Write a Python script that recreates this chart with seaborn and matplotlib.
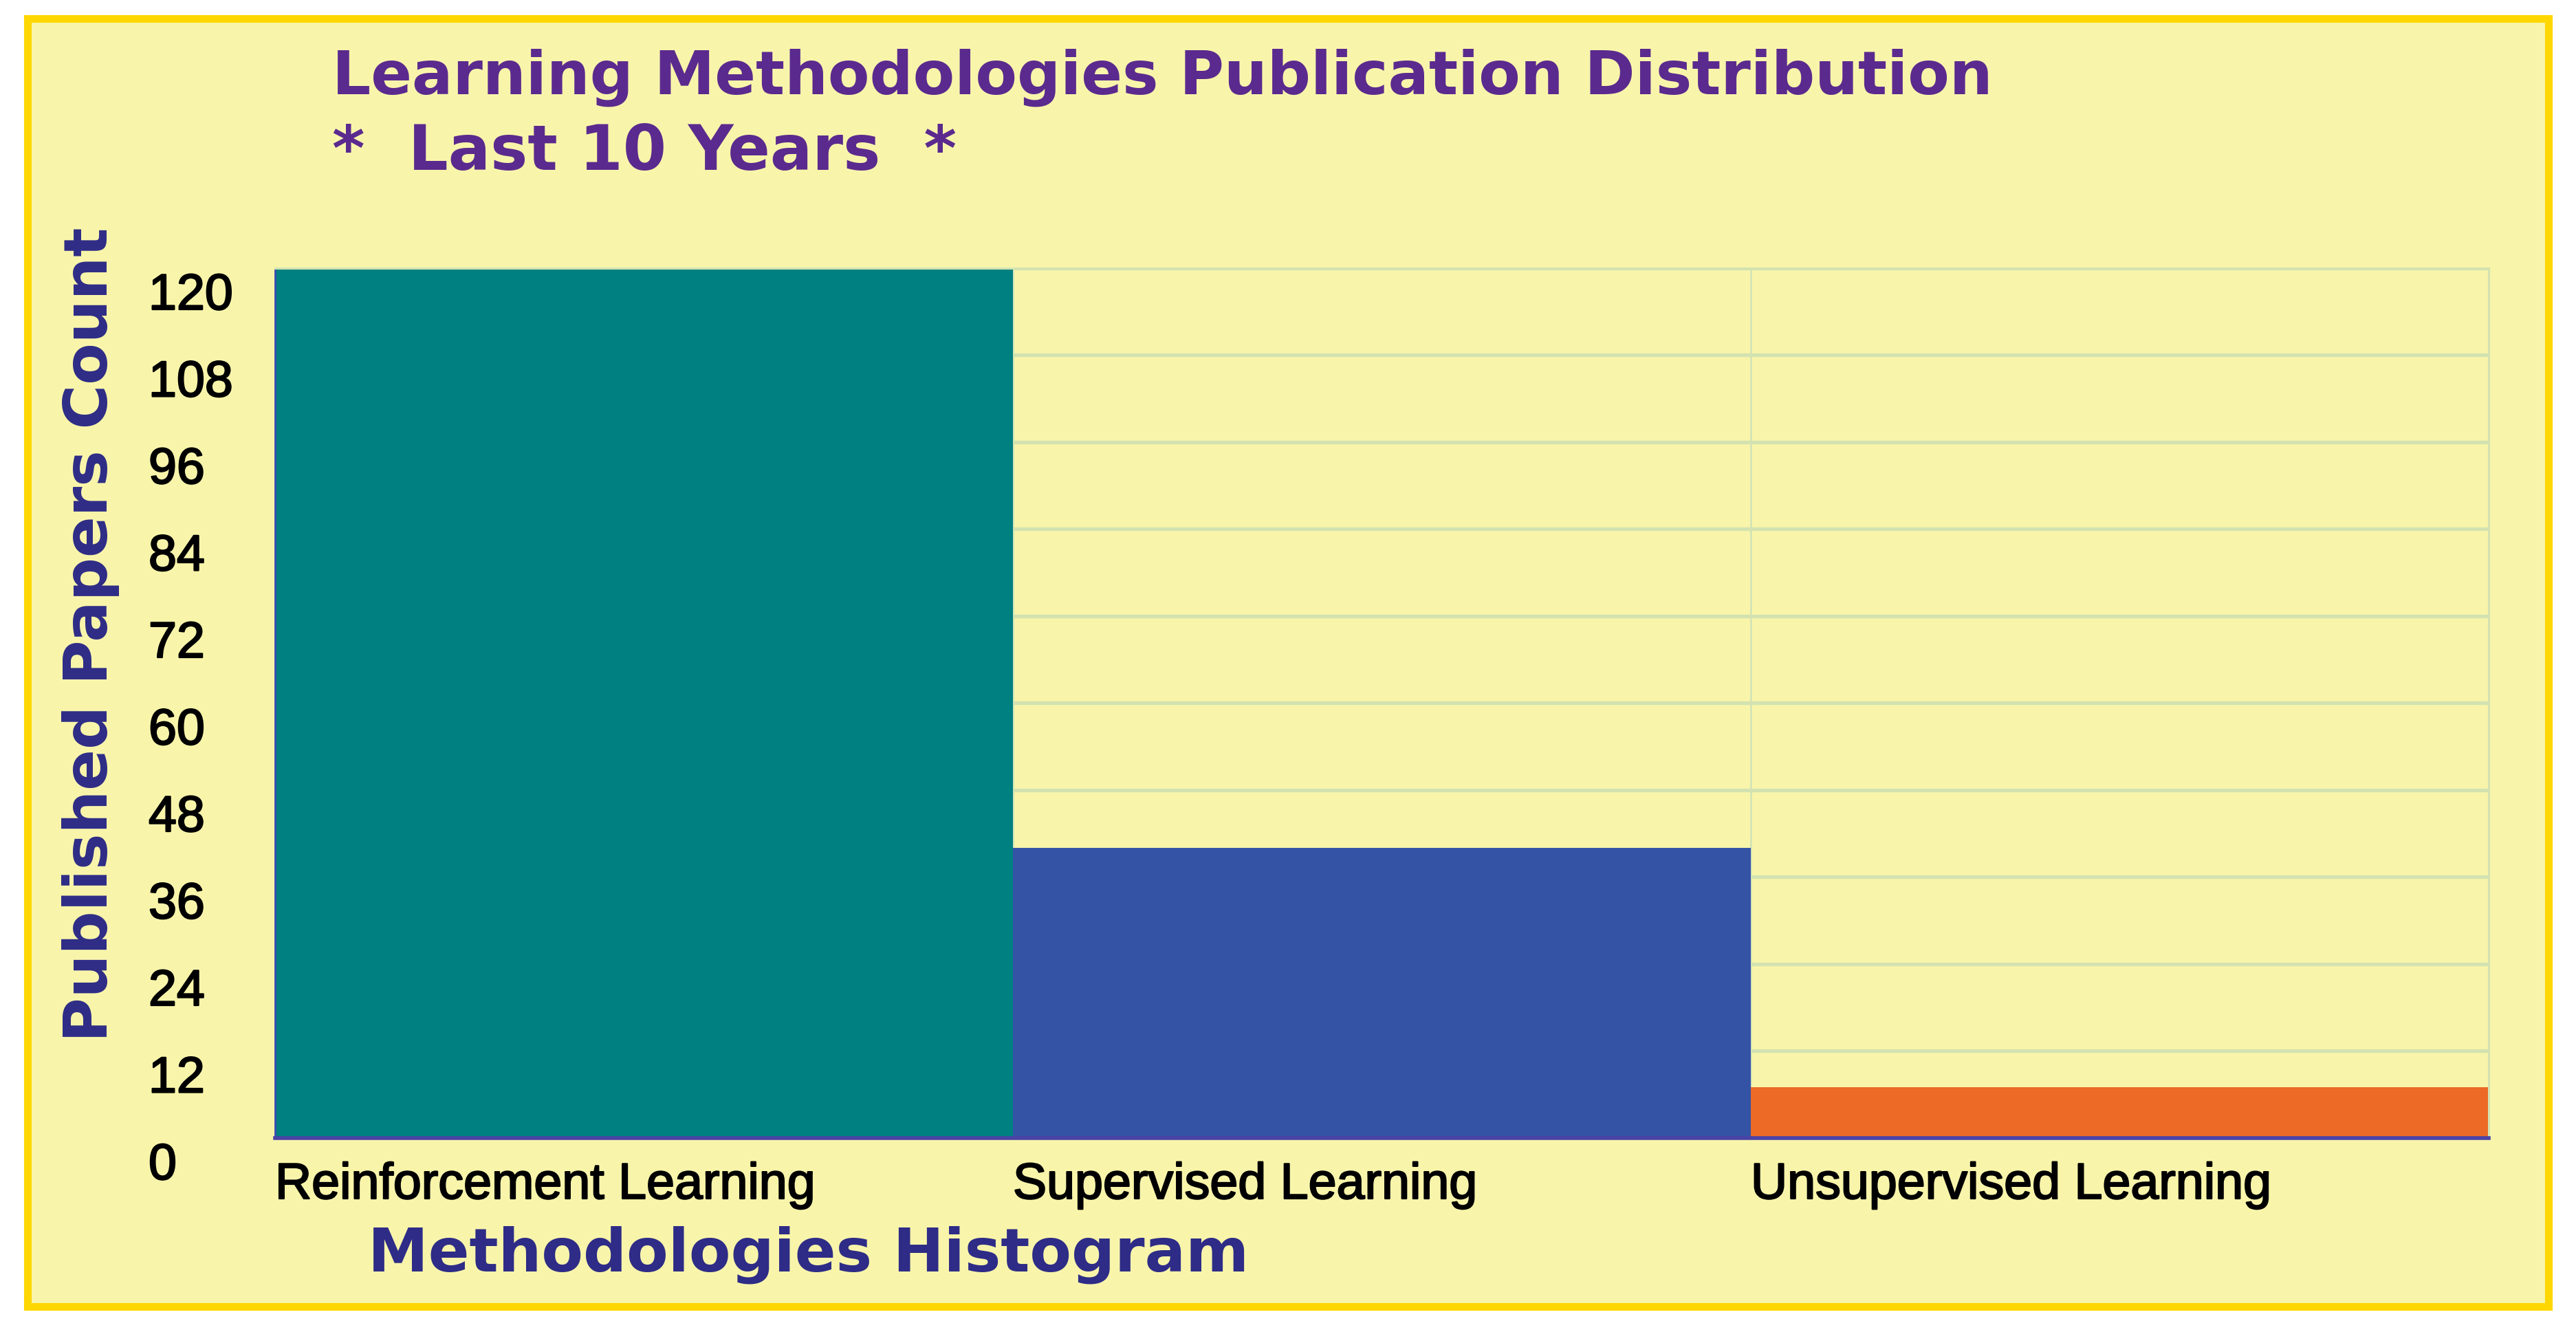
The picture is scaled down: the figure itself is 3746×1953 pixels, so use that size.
import numpy as np
import pandas as pd
import matplotlib
matplotlib.use("Agg")
import matplotlib.pyplot as plt
import matplotlib.patheffects as pe
import seaborn as sns
from matplotlib.transforms import ScaledTranslation
from matplotlib.patches import Rectangle

# ---- data ----
categories = ["Reinforcement Learning", "Supervised Learning", "Unsupervised Learning"]
paper_counts = [120, 40, 7]
bar_colors = ["#008080", "#3553A5", "#EC6A25"]
y_ticks = [0, 12, 24, 36, 48, 60, 72, 84, 96, 108, 120]
title_line1 = "Learning Methodologies Publication Distribution"
title_line2 = "*  Last 10 Years  *"
x_label = "Methodologies Histogram"
y_label = "Published Papers Count"

# ---- style ----
BG = "#F8F5AB"
GOLD = "#FFD700"
PURPLE = "#5B2A8E"
NAVY = "#2E2C86"
GRID = "#D3E2B0"

W, H, DPI = 3746, 1953, 100
fig = plt.figure(figsize=(W / DPI, H / DPI), dpi=DPI, facecolor="white")

rect = Rectangle((0.01068, 0.02714), 0.97864, 0.95904, transform=fig.transFigure,
                 facecolor=BG, edgecolor=GOLD, lw=8, zorder=-5)
fig.add_artist(rect)

ax = fig.add_axes([0.10678, 0.15259, 0.85931, 0.64772])
ax.set_facecolor(BG)

df = pd.DataFrame({"method": categories, "count": paper_counts})
sns.barplot(data=df, x="method", y="count", hue="method", palette=bar_colors,
            width=1.0, saturation=1, legend=False, ax=ax, linewidth=0)

ax.set_xlim(-0.5, len(categories) - 0.5)
ax.set_ylim(0, 120)
ax.set_axisbelow(True)

ax.set_xticks(np.arange(len(categories)) - 0.5, categories)
ax.set_yticks(y_ticks, [str(v) for v in y_ticks])
ax.tick_params(axis="both", length=0, pad=0)

ax.grid(axis="y", color=GRID, lw=3.8)
ax.grid(axis="x", color="#CFE2B8", lw=1.8)

for s in ("top", "right"):
    ax.spines[s].set_color(GRID)
    ax.spines[s].set_linewidth(2.2)
ax.spines["left"].set_color("#3A4BB0")
ax.spines["left"].set_linewidth(2.0)
ax.spines["bottom"].set_color("#4B42A6")
ax.spines["bottom"].set_linewidth(4)

bold_fx = [pe.Stroke(linewidth=1.6, foreground="black"), pe.Normal()]

ytr = ScaledTranslation(-1.84, -0.60, fig.dpi_scale_trans)
for lab in ax.get_yticklabels():
    lab.set_fontfamily("Liberation Sans")
    lab.set_fontsize(53)
    lab.set_color("black")
    lab.set_horizontalalignment("left")
    lab.set_verticalalignment("baseline")
    lab.set_path_effects(bold_fx)
    lab.set_transform(lab.get_transform() + ytr)

xtr = ScaledTranslation(0, -0.88, fig.dpi_scale_trans)
for lab in ax.get_xticklabels():
    lab.set_fontfamily("Liberation Sans")
    lab.set_fontsize(53)
    lab.set_color("black")
    lab.set_horizontalalignment("left")
    lab.set_verticalalignment("baseline")
    lab.set_path_effects(bold_fx)
    lab.set_transform(lab.get_transform() + xtr)

ax.set_xlabel(x_label, fontfamily="DejaVu Sans", fontweight="bold", fontsize=63.5, color=NAVY)
ax.xaxis.label.set_horizontalalignment("left")
ax.xaxis.label.set_verticalalignment("baseline")
ax.xaxis.set_label_coords(0.0419, -0.1526)

ax.set_ylabel(y_label, fontfamily="DejaVu Sans", fontweight="bold", fontsize=63.5, color=NAVY)
ax.yaxis.set_label_coords(-0.0702, 0.5787)

fig.text(0.129, 0.9299, title_line1, fontfamily="DejaVu Sans", fontweight="bold",
         fontsize=63.5, color=PURPLE, ha="left", va="baseline")
fig.text(0.129, 0.8735, title_line2, fontfamily="DejaVu Sans", fontweight="bold",
         fontsize=65.5, color=PURPLE, ha="left", va="baseline")

fig.savefig("out.png", dpi=DPI, facecolor="white")
